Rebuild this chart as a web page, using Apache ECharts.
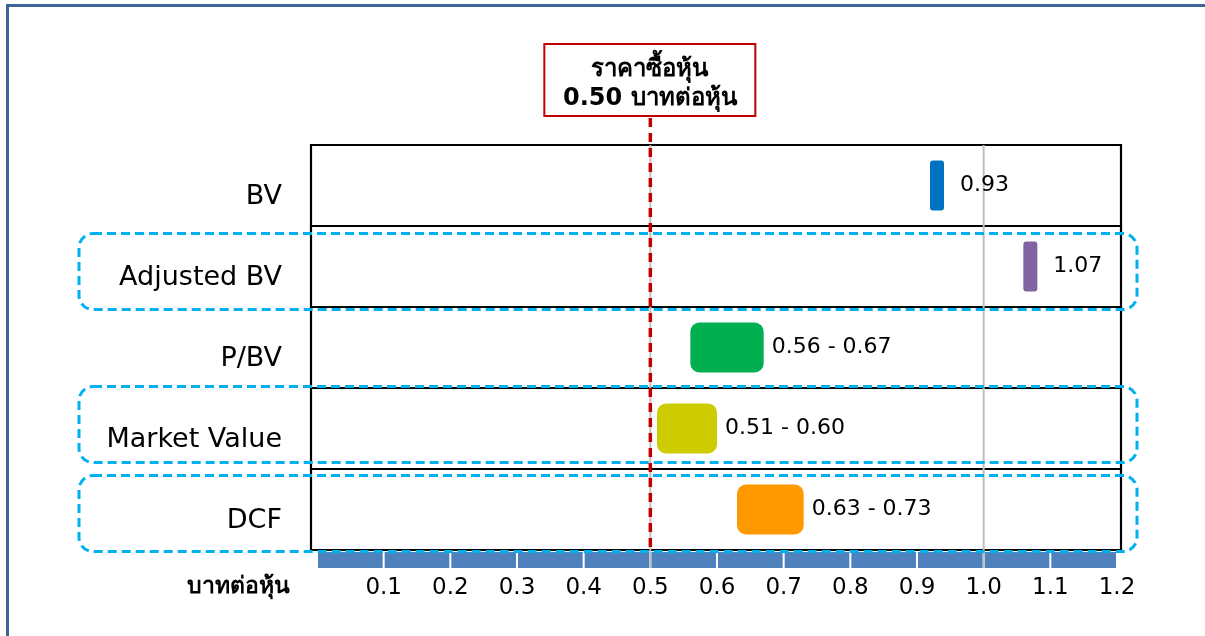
<!DOCTYPE html>
<html>
<head>
<meta charset="utf-8">
<script src="https://cdn.jsdelivr.net/npm/echarts@6/dist/echarts.min.js"></script>
<style>
  html, body { margin: 0; padding: 0; background: #ffffff; }
  #chart { width: 1205px; height: 636px; }
</style>
</head>
<body>
<div id="chart"></div>
<script>
// Valuation methods and their price ranges (Baht per share)
const categories = ['BV', 'Adjusted BV', 'P/BV', 'Market Value', 'DCF'];
const lowValues  = [0.93, 1.07, 0.56, 0.51, 0.63];
const highValues = [0.93, 1.07, 0.67, 0.60, 0.73];

// Horizontal scale
const tickValues = [0, 0.1, 0.2, 0.3, 0.4, 0.5, 0.6, 0.7, 0.8, 0.9, 1.0, 1.1, 1.2];
const tickLabels = ['', '0.1', '0.2', '0.3', '0.4', '0.5', '0.6', '0.7', '0.8', '0.9', '1.0', '1.1', '1.2'];
const gridValues = [0.5, 1.0];

// Purchase price reference
const purchasePrice = 0.50;
const priceTitle = 'ราคาซื้อหุ้น';
const unitLabel = 'บาทต่อหุ้น';

// Rows framed with a dashed outline
const highlightedRows = ['Adjusted BV', 'Market Value', 'DCF'];

// ---- styling ----
const barColors = ['#0070C0', '#8064A2', '#00B050', '#CCCC00', '#FF9900'];
const boxShift = { 'Adjusted BV': 5, 'Market Value': -4, 'DCF': 4 };
const FONT = "'DejaVu Sans', 'Noto Sans', sans-serif";
const AXIS_BLUE = '#4F81BD';

const chart = echarts.init(document.getElementById('chart'), null, { renderer: 'canvas' });

const option = {
  backgroundColor: '#ffffff',
  animation: false,
  textStyle: { fontFamily: FONT },
  grid: {
    left: 317, top: 145, width: 800, height: 405,
    containLabel: false, outerBoundsMode: 'none'
  },
  xAxis: {
    type: 'value',
    min: 0, max: 1.2, interval: 0.1,
    axisLine: { show: false },
    axisTick: { show: false },
    splitLine: { show: false },
    axisLabel: {
      margin: 38,
      verticalAlign: 'middle',
      fontSize: 23,
      color: '#000',
      fontFamily: FONT,
      showMinLabel: true,
      showMaxLabel: true,
      formatter: function (v) {
        const i = tickValues.findIndex(t => Math.abs(t - v) < 1e-6);
        return i >= 0 ? tickLabels[i] : '';
      }
    }
  },
  yAxis: {
    type: 'category',
    data: categories,
    inverse: true,
    axisLine: { show: false },
    axisTick: { show: false },
    splitLine: { show: false },
    axisLabel: { show: false }
  },
  graphic: [
    {
      type: 'rect', z: 0, silent: true,
      shape: { x: 7.5, y: 5.5, width: 1210, height: 640 },
      style: { fill: 'none', stroke: '#3C6497', lineWidth: 3 }
    },
    {
      type: 'text', z: 10, silent: true,
      x: 238, y: 587,
      style: {
        text: unitLabel, fontSize: 23, fontWeight: 'bold',
        fill: '#000', align: 'center', verticalAlign: 'middle', fontFamily: FONT
      }
    }
  ],
  series: [
    // row frames and row names
    {
      type: 'custom', name: 'rows', z: 1, clip: false, silent: true,
      data: categories.map((c, i) => [0, i]),
      encode: { x: 0, y: 1 },
      renderItem: function (params, api) {
        const cs = params.coordSys;
        const idx = api.value(1);
        const cy = api.coord([0, idx])[1];
        const h = api.size([0, 1])[1];
        return {
          type: 'group',
          children: [
            {
              type: 'rect',
              shape: { x: cs.x - 6, y: cy - h / 2, width: cs.width + 10, height: h },
              style: { fill: 'none', stroke: '#000', lineWidth: 2.2 }
            },
            {
              type: 'text',
              x: cs.x - 35, y: cy + 11,
              style: {
                text: categories[idx], fontSize: 27, fill: '#000', fontFamily: FONT,
                align: 'right', verticalAlign: 'middle'
              }
            }
          ]
        };
      }
    },
    // vertical gridlines
    {
      type: 'custom', name: 'grid', z: 2, clip: false, silent: true,
      data: gridValues.map(v => [v, 0]),
      encode: { x: 0, y: 1 },
      renderItem: function (params, api) {
        const cs = params.coordSys;
        const x = api.coord([api.value(0), 0])[0];
        return {
          type: 'line',
          shape: { x1: x, y1: cs.y, x2: x, y2: cs.y + cs.height + 18 },
          style: { stroke: '#BFBFBF', lineWidth: 2 }
        };
      }
    },
    // segmented axis band
    {
      type: 'custom', name: 'axisBand', z: 1, clip: false, silent: true,
      data: tickValues.slice(0, -1).map((v, i) => [v, tickValues[i + 1], 0]),
      encode: { x: [0, 1], y: 2 },
      renderItem: function (params, api) {
        const cs = params.coordSys;
        const x0 = api.coord([api.value(0), 0])[0];
        const x1 = api.coord([api.value(1), 0])[0];
        return {
          type: 'rect',
          shape: { x: x0 + 1, y: cs.y + cs.height + 2, width: x1 - x0 - 2, height: 16 },
          style: { fill: AXIS_BLUE }
        };
      }
    },
    // value ranges
    {
      type: 'custom', name: 'ranges', z: 5, clip: false, silent: true,
      data: categories.map((c, i) => [lowValues[i], highValues[i], i]),
      encode: { x: [0, 1], y: 2 },
      renderItem: function (params, api) {
        const lo = api.value(0), hi = api.value(1), idx = api.value(2);
        const cy = api.coord([lo, idx])[1];
        let x0 = api.coord([lo, idx])[0];
        let x1 = api.coord([hi, idx])[0];
        const single = lo === hi;
        if (x1 - x0 < 14) { const c = (x0 + x1) / 2; x0 = c - 7; x1 = c + 7; }
        const label = single ? lo.toFixed(2) : lo.toFixed(2) + ' - ' + hi.toFixed(2);
        return {
          type: 'group',
          children: [
            {
              type: 'rect',
              shape: { x: x0, y: cy - 25, width: x1 - x0, height: 50, r: single ? 3 : 9 },
              style: { fill: barColors[idx] }
            },
            {
              type: 'text',
              x: x1 + (single ? 16 : 8), y: cy,
              style: {
                text: label, fontSize: 22, fill: '#000', fontFamily: FONT,
                align: 'left', verticalAlign: 'middle'
              }
            }
          ]
        };
      }
    },
    // dashed outlines around selected rows
    {
      type: 'custom', name: 'highlight', z: 6, clip: false, silent: true,
      data: highlightedRows.map(r => [0, categories.indexOf(r)]),
      encode: { x: 0, y: 1 },
      renderItem: function (params, api) {
        const idx = api.value(1);
        const cy = api.coord([0, idx])[1] + boxShift[categories[idx]];
        return {
          type: 'rect',
          shape: { x: 79, y: cy - 38, width: 1058, height: 76, r: 14 },
          style: { fill: 'none', stroke: '#00B0F0', lineWidth: 3, lineDash: [9, 5] }
        };
      }
    },
    // purchase price line with its callout
    {
      type: 'custom', name: 'price', z: 7, clip: false, silent: true,
      data: [[purchasePrice, 0]],
      encode: { x: 0, y: 1 },
      renderItem: function (params, api) {
        const cs = params.coordSys;
        const x = api.coord([api.value(0), 0])[0];
        return {
          type: 'group',
          children: [
            {
              type: 'line',
              shape: { x1: x, y1: 118, x2: x, y2: cs.y + cs.height + 2 },
              style: { stroke: '#C00000', lineWidth: 3.5, lineDash: [9, 6] }
            },
            {
              type: 'rect',
              shape: { x: x - 106, y: 44, width: 211, height: 72 },
              style: { fill: '#fff', stroke: '#C00000', lineWidth: 2 }
            },
            {
              type: 'text',
              x: x - 0.5, y: 84,
              style: {
                text: priceTitle + '\n' + purchasePrice.toFixed(2) + ' ' + unitLabel,
                fontSize: 24, fontWeight: 'bold', lineHeight: 29, fill: '#000',
                fontFamily: FONT, align: 'center', verticalAlign: 'middle'
              }
            }
          ]
        };
      }
    }
  ]
};

chart.setOption(option);
</script>
</body>
</html>
